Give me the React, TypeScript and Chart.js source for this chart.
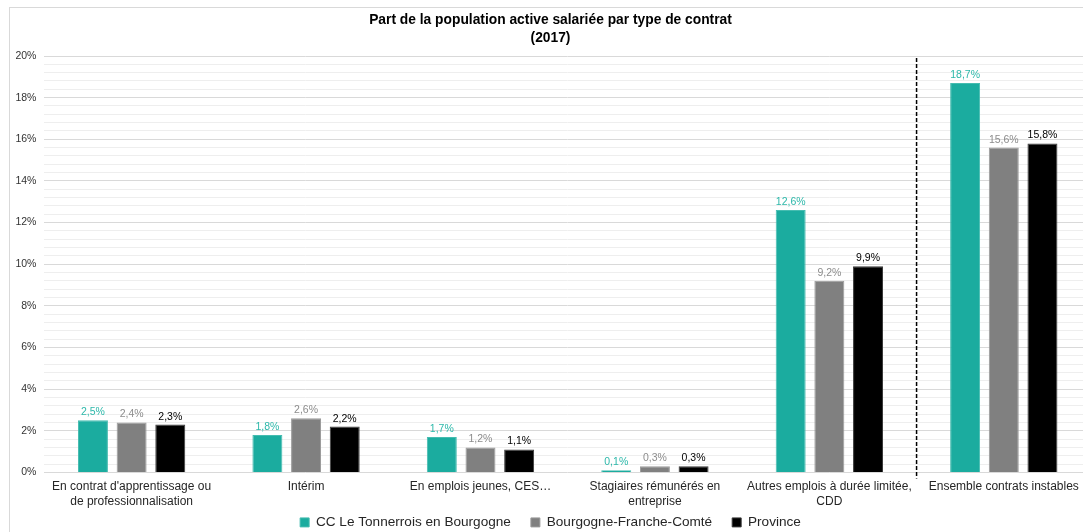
import React, { useEffect, useRef } from "react";
import { Chart, registerables } from "chart.js";

Chart.register(...registerables);

const categories: string[][] = [
  ["En contrat d'apprentissage ou", "de professionnalisation"],
  ["Intérim"],
  ["En emplois jeunes, CES…"],
  ["Stagiaires rémunérés en", "entreprise"],
  ["Autres emplois à durée limitée,", "CDD"],
  ["Ensemble contrats instables"],
];
const seriesNames = ["CC Le Tonnerrois en Bourgogne", "Bourgogne-Franche-Comté", "Province"];
const tonnerrois = [2.5, 1.8, 1.7, 0.1, 12.6, 18.7];
const bourgogneFC = [2.4, 2.6, 1.2, 0.3, 9.2, 15.6];
const province = [2.3, 2.2, 1.1, 0.3, 9.9, 15.8];
const yMin = 0;
const yMax = 20;
const yMajorStep = 2;
const yMinorStep = 0.4;
const titleLines = ["Part de la population active salariée par type de contrat", "(2017)"];

const FONT = "'Liberation Sans', Arial, Helvetica, sans-serif";
const barColors = ["#1BAC9F", "#808080", "#000000"];
const barBorders = ["#45BCB0", "#9A9A9A", "#3A3A3A"];
const labelColors = ["#2DB8AA", "#8C8C8C", "#000000"];

const isMajor = (v: number) => Math.abs(v / yMajorStep - Math.round(v / yMajorStep)) < 1e-6;
const fmt = (v: number) => v.toFixed(1).replace(".", ",") + "%";

const dataLabelPlugin = {
  id: "dataLabels",
  afterDatasetsDraw(chart: any) {
    const ctx = chart.ctx;
    ctx.save();
    ctx.font = `10.5px ${FONT}`;
    ctx.textAlign = "center";
    ctx.textBaseline = "alphabetic";
    chart.data.datasets.forEach((ds: any, di: number) => {
      const meta = chart.getDatasetMeta(di);
      meta.data.forEach((el: any, i: number) => {
        ctx.fillStyle = labelColors[di];
        ctx.fillText(fmt(ds.data[i]), el.x, el.y - 5);
      });
    });
    ctx.restore();
  },
};

const dividerPlugin = {
  id: "divider",
  afterDatasetsDraw(chart: any) {
    const x = chart.scales.x;
    const area = chart.chartArea;
    const px = (x.getPixelForValue(4) + x.getPixelForValue(5)) / 2;
    const ctx = chart.ctx;
    ctx.save();
    ctx.strokeStyle = "#000000";
    ctx.lineWidth = 1.5;
    ctx.setLineDash([4, 2]);
    ctx.beginPath();
    ctx.moveTo(px, area.top + 2);
    ctx.lineTo(px, area.bottom + 6);
    ctx.stroke();
    ctx.restore();
  },
};

// Pull the legend up so that it sits just under the two-line category labels
const legendPlacePlugin = {
  id: "legendPlace",
  afterLayout(chart: any) {
    const lg = chart.legend;
    if (!lg) return;
    const pad = lg.options.labels.padding;
    const fs = lg.options.labels.font.size;
    const textCenter = lg.top + pad + fs / 2;
    const target = chart.chartArea.bottom + 50;
    const dy = textCenter - target;
    lg.top -= dy;
    lg.bottom -= dy;
  },
};

export default function App() {
  const canvasRef = useRef<HTMLCanvasElement | null>(null);

  useEffect(() => {
    if (!canvasRef.current) return;
    const datasets = [tonnerrois, bourgogneFC, province].map((d, i) => ({
      label: seriesNames[i],
      data: d,
      backgroundColor: barColors[i],
      borderColor: barBorders[i],
      borderWidth: 1,
      categoryPercentage: 0.665,
      barPercentage: 0.775,
    }));
    const chart = new Chart(canvasRef.current, {
      type: "bar",
      data: { labels: categories, datasets },
      plugins: [dataLabelPlugin, dividerPlugin, legendPlacePlugin],
      options: {
        animation: false,
        responsive: false,
        devicePixelRatio: 1,
        layout: { padding: { left: 0, right: 11, top: 0, bottom: 10 } },
        font: { family: FONT },
        plugins: {
          title: {
            display: true,
            text: titleLines,
            color: "#000000",
            font: { family: FONT, size: 13.8, weight: "bold", lineHeight: "18px" },
            padding: { top: 3, bottom: 9 },
          },
          legend: {
            position: "bottom",
            labels: {
              boxWidth: 9,
              boxHeight: 9,
              padding: 20,
              color: "#262626",
              font: { family: FONT, size: 13.6 },
            },
          },
          tooltip: { enabled: false },
        },
        scales: {
          x: {
            grid: { display: false, drawTicks: false },
            border: { display: false },
            ticks: {
              color: "#262626",
              font: { family: FONT, size: 12, lineHeight: 1.25 },
              padding: 7,
              maxRotation: 0,
              autoSkip: false,
            },
            afterFit: (scale: any) => {
              scale.height = 40;
            },
          },
          y: {
            min: yMin,
            max: yMax,
            grid: {
              drawTicks: false,
              color: (ctx: any) => (ctx.tick && isMajor(ctx.tick.value) ? "#D9D9D9" : "#EEEEEE"),
            },
            border: { display: false },
            ticks: {
              stepSize: yMinorStep,
              autoSkip: false,
              padding: 8,
              color: "#333333",
              font: { family: FONT, size: 10.5 },
              callback: (v: any) => (isMajor(Number(v)) ? `${Math.round(Number(v))}%` : ""),
            },
            afterFit: (scale: any) => {
              scale.width = 34.4;
            },
          },
        },
      } as any,
    });
    return () => chart.destroy();
  }, []);

  return (
    <div
      style={{
        position: "fixed",
        left: 0,
        top: 0,
        width: 1083,
        height: 532,
        overflow: "hidden",
        background: "#ffffff",
      }}
    >
      <div
        style={{
          position: "absolute",
          left: 9,
          top: 7,
          borderLeft: "1px solid #D9D9D9",
          borderTop: "1px solid #D9D9D9",
        }}
      >
        <canvas ref={canvasRef} width={1092} height={558} style={{ display: "block" }} />
      </div>
    </div>
  );
}
